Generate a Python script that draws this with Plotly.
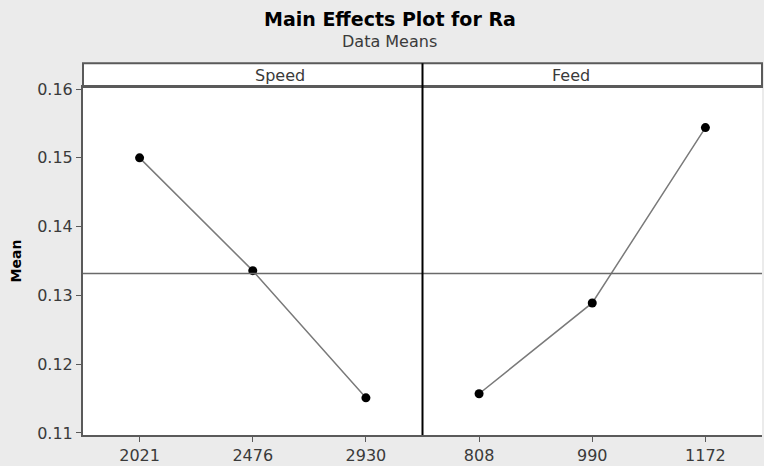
import plotly.graph_objects as go

# data (Minitab main effects plot, means of Ra)
speed_levels = ["2021", "2476", "2930"]
speed_means = [0.1500, 0.1336, 0.1151]
feed_levels = ["808", "990", "1172"]
feed_means = [0.1157, 0.1289, 0.1544]
grand_mean = 0.1332
y_ticks = [0.11, 0.12, 0.13, 0.14, 0.15, 0.16]
panel_names = ["Speed", "Feed"]

FONT = "DejaVu Sans"
FRAME = "#5a5a5a"
TXT = "#3a3a3a"

fig = go.Figure()

for xa, levels, means in [("x", speed_levels, speed_means), ("x2", feed_levels, feed_means)]:
    fig.add_trace(
        go.Scatter(
            x=levels,
            y=means,
            mode="lines+markers",
            xaxis=xa,
            yaxis="y" if xa == "x" else "y2",
            line=dict(color="#7a7a7a", width=1.5),
            marker=dict(color="black", size=9),
            showlegend=False,
        )
    )

y_top = 0.9405  # plot area top inside the margins; strip sits above it
y_range = [0.1097, 0.1603]

axis_common = dict(
    type="category",
    range=[-0.5, 2.5],
    showgrid=False,
    zeroline=False,
    showline=True,
    linecolor=FRAME,
    linewidth=2,
    mirror=True,
    ticks="outside",
    ticklen=5,
    tickcolor=FRAME,
    tickfont=dict(family=FONT, size=16, color=TXT),
)

fig.update_layout(
    width=764,
    height=466,
    margin=dict(l=83, r=2, t=65, b=31),
    paper_bgcolor="#ebebeb",
    plot_bgcolor="white",
    xaxis=dict(domain=[0, 0.5], anchor="y", **axis_common),
    xaxis2=dict(domain=[0.5, 1], anchor="y2", **axis_common),
    yaxis=dict(
        domain=[0, y_top],
        range=y_range,
        tickvals=y_ticks,
        tickformat=".2f",
        showgrid=False,
        zeroline=False,
        showline=True,
        linecolor=FRAME,
        linewidth=2,
        ticks="outside",
        ticklen=5,
        tickcolor=FRAME,
        tickfont=dict(family=FONT, size=16, color=TXT),
        title=dict(text="<b>Mean</b>", font=dict(family=FONT, size=14, color="black"), standoff=12),
    ),
    yaxis2=dict(
        domain=[0, y_top],
        range=y_range,
        anchor="x2",
        matches="y",
        showticklabels=False,
        showgrid=False,
        zeroline=False,
        showline=False,
    ),
)

# grand mean reference line across both panels
fig.add_shape(
    type="line", xref="paper", yref="y",
    x0=0, x1=1, y0=grand_mean, y1=grand_mean,
    line=dict(color="#6a6a6a", width=1.5),
)

# panel strip header
fig.add_shape(
    type="rect", xref="paper", yref="paper",
    x0=0, x1=1, y0=y_top, y1=1.005,
    fillcolor="white", line=dict(color=FRAME, width=2),
    layer="below",
)
# divider between the two panels
fig.add_shape(
    type="line", xref="paper", yref="paper",
    x0=0.5, x1=0.5, y0=0, y1=1.005,
    line=dict(color="black", width=2),
)

for i, name in enumerate(panel_names):
    fig.add_annotation(
        x=0.25 + 0.5 * i, y=(y_top + 1.005) / 2, xref="paper", yref="paper",
        text=name, showarrow=False, yanchor="middle",
        font=dict(family=FONT, size=16, color=TXT),
    )

fig.add_annotation(
    x=0.452, y=1 + (65 - 19) / 370, xref="paper", yref="paper",
    text="<b>Main Effects Plot for Ra</b>", showarrow=False, yanchor="middle",
    font=dict(family=FONT, size=19, color="black"),
)
fig.add_annotation(
    x=0.452, y=1 + (65 - 41) / 370, xref="paper", yref="paper",
    text="Data Means", showarrow=False, yanchor="middle",
    font=dict(family=FONT, size=16, color=TXT),
)

# page body has a default 8px margin; drop it so the figure fills the window
fig.write_html(
    "out.html",
    config={"displayModeBar": False},
    post_script="document.body.style.margin='0';",
)
